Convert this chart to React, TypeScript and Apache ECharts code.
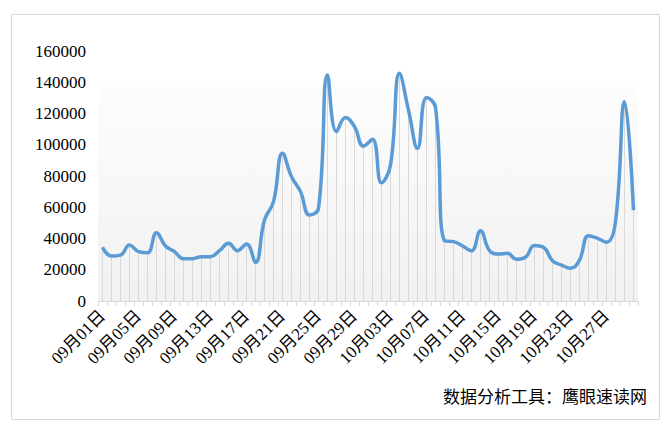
import React, { useEffect, useRef } from "react";
import * as echarts from "echarts";

const startMonthDays: Array<[string, number]> = [["09", 30], ["10", 30]];
const categories: string[] = [];
startMonthDays.forEach(([m, n]) => {
  for (let d = 1; d <= n; d++) categories.push(`${m}月${String(d).padStart(2, "0")}日`);
});

const values: number[] = [
  34400, 28800, 29400, 35800, 31600, 30900, 43700, 35200, 31600, 27100,
  27100, 28400, 28400, 32200, 36900, 32200, 36500, 24700, 51800, 63600,
  94500, 79600, 70000, 55000, 59300, 144600, 108400, 117500, 111600, 99200,
  103500, 75700, 87000, 145700, 122200, 97700, 130300, 124000, 38600, 38000,
  35200, 32200, 45000, 32200, 30100, 30500, 26700, 28000, 35600, 34400,
  25800, 23000, 20900, 26200, 41800, 40100, 37600, 50800, 127600, 58200,
];

const yMax = 160000;
const yInterval = 20000;
const footer = "数据分析工具：鹰眼速读网";

export default function App() {
  const ref = useRef<HTMLDivElement>(null);
  useEffect(() => {
    document.body.style.margin = "0";
    const chart = echarts.init(ref.current!, null, { renderer: "svg" });
    const font = "Liberation Serif, Noto Sans CJK SC, serif";
    chart.setOption({
      animation: false,
      backgroundColor: "#ffffff",
      grid: {
        left: 98,
        right: 33,
        top: 51,
        bottom: 131,
        show: true,
        borderWidth: 0,
        backgroundColor: new echarts.graphic.LinearGradient(0, 0, 0, 1, [
          { offset: 0, color: "#ffffff" },
          { offset: 0.12, color: "#ffffff" },
          { offset: 0.125, color: "#fdfdfd" },
          { offset: 1, color: "#f1f1f1" },
        ]),
      },
      graphic: [
        {
          type: "rect",
          shape: { x: 11.5, y: 14.5, width: 648, height: 405 },
          style: { fill: "none", stroke: "#d9d9d9", lineWidth: 1 },
          silent: true,
        },
        {
          type: "text",
          right: 24,
          top: 387,
          style: {
            text: footer,
            fontSize: 17,
            fontFamily: "Noto Sans CJK SC, sans-serif",
            fill: "#000000",
          },
        },
      ],
      xAxis: {
        type: "category",
        data: categories,
        boundaryGap: true,
        axisLine: { show: true, lineStyle: { color: "#d9d9d9", width: 1 } },
        axisTick: { show: true, interval: 0, length: 5, lineStyle: { color: "#d9d9d9" } },
        axisLabel: {
          interval: 3,
          rotate: 45,
          margin: 12,
          fontSize: 17,
          color: "#000000",
          fontFamily: font,
        },
        splitLine: { show: false },
      },
      yAxis: {
        type: "value",
        min: 0,
        max: yMax,
        interval: yInterval,
        axisLine: { show: false },
        axisTick: { show: false },
        splitLine: { show: false },
        axisLabel: {
          fontSize: 17,
          color: "#000000",
          margin: 12,
          fontFamily: "Liberation Serif, serif",
          formatter: (v: number) => String(v),
        },
      },
      series: [
        {
          type: "bar",
          data: values,
          barWidth: 1,
          itemStyle: { color: "#d9d9d9" },
          silent: true,
          z: 1,
        },
        {
          type: "line",
          data: values,
          smooth: 0.45,
          showSymbol: false,
          symbol: "none",
          lineStyle: { color: "#5b9bd5", width: 3.5 },
          z: 3,
        },
      ],
    });
    return () => chart.dispose();
  }, []);
  return <div ref={ref} style={{ width: 671, height: 432 }} />;
}
